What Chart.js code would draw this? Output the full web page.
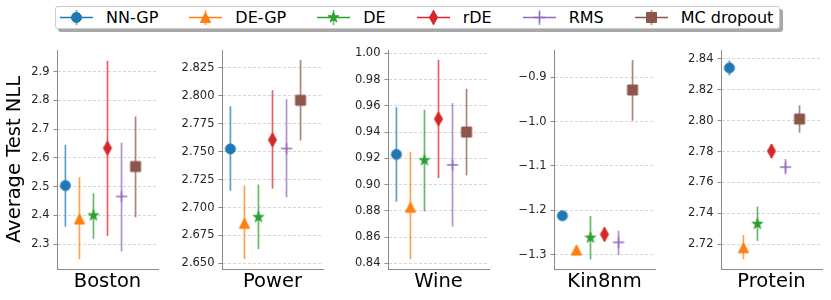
<!DOCTYPE html>
<html>
<head>
<meta charset="utf-8">
<script src="https://cdn.jsdelivr.net/npm/chart.js@4.4.0/dist/chart.umd.min.js"></script>
<style>
  body { margin: 0; background: #fff; width: 831px; height: 300px; position: relative; overflow: hidden; font-family: 'DejaVu Sans', sans-serif; }
  canvas.panel { position: absolute; top: 36px; }
  #legend { position: absolute; left: 55px; top: 6px; height: 23px; box-sizing: border-box; border: 1px solid #ccc; border-radius: 3px; background: #fff; box-shadow: 3px 3px 0 #a8a8a8; display: flex; align-items: center; padding: 0 6px 0 4px; font-size: 16px; color: #000; white-space: nowrap; }
  .item { display: flex; align-items: center; margin-right: 31px; }
  .item:last-child { margin-right: 0; }
  .item canvas { margin-right: 13px; display: block; }
</style>
</head>
<body>
<div id="legend"></div>
<script>
// methods and colours
const methods = ["NN-GP", "DE-GP", "DE", "rDE", "RMS", "MC dropout"];
const colors = ["#1f77b4", "#ff7f0e", "#2ca02c", "#d62728", "#9467bd", "#8c564b"];
const markers = ["circle", "triangle", "star", "thin_diamond", "plus", "square"];
const datasetNames = ["Boston", "Power", "Wine", "Kin8nm", "Protein"];

// values: mean, lower and upper end of the error bar
const bostonMean = [2.504, 2.388, 2.400, 2.634, 2.466, 2.570];
const bostonLow  = [2.361, 2.248, 2.319, 2.329, 2.275, 2.394];
const bostonHigh = [2.645, 2.533, 2.477, 2.938, 2.653, 2.744];

const powerMean = [2.7525, 2.686, 2.6914, 2.7606, 2.7528, 2.796];
const powerLow  = [2.715, 2.654, 2.6628, 2.717, 2.7093, 2.760];
const powerHigh = [2.7907, 2.7198, 2.7206, 2.805, 2.797, 2.832];

const wineMean = [0.923, 0.8828, 0.9185, 0.950, 0.915, 0.940];
const wineLow  = [0.887, 0.843, 0.8795, 0.905, 0.868, 0.907];
const wineHigh = [0.959, 0.925, 0.957, 0.995, 0.962, 0.973];

const kinMean = [-1.212, -1.289, -1.2616, -1.254, -1.272, -0.929];
const kinLow  = [-1.216, -1.294, -1.3105, -1.2706, -1.3008, -0.998];
const kinHigh = [-1.208, -1.284, -1.2126, -1.238, -1.2458, -0.8616];

const proteinMean = [2.8342, 2.7178, 2.7332, 2.7804, 2.770, 2.8011];
const proteinLow  = [2.8294, 2.7103, 2.7222, 2.7757, 2.7653, 2.7923];
const proteinHigh = [2.839, 2.726, 2.7444, 2.7847, 2.7752, 2.810];

// tick labels and axis ranges
const bostonTicks = [2.3, 2.4, 2.5, 2.6, 2.7, 2.8, 2.9];
const powerTicks = [2.650, 2.675, 2.700, 2.725, 2.750, 2.775, 2.800, 2.825];
const wineTicks = [0.84, 0.86, 0.88, 0.90, 0.92, 0.94, 0.96, 0.98, 1.00];
const kinTicks = [-1.3, -1.2, -1.1, -1.0, -0.9];
const proteinTicks = [2.72, 2.74, 2.76, 2.78, 2.80, 2.82, 2.84];
const tickDecimals = [1, 3, 2, 1, 2];
const yMins = [2.214, 2.645, 0.8357, -1.332, 2.704];
const yMaxs = [2.975, 2.841, 1.0025, -0.839, 2.8458];

const allMeans = [bostonMean, powerMean, wineMean, kinMean, proteinMean];
const allLows = [bostonLow, powerLow, wineLow, kinLow, proteinLow];
const allHighs = [bostonHigh, powerHigh, wineHigh, kinHigh, proteinHigh];
const allTicks = [bostonTicks, powerTicks, wineTicks, kinTicks, proteinTicks];

const SPINE = "#8a8a8a";
const panelLeft = [57, 222, 388, 554, 721];

Chart.defaults.font.family = "'DejaVu Sans', sans-serif";

function rgba(hex, a) {
    const n = parseInt(hex.slice(1), 16);
    return `rgba(${(n >> 16) & 255}, ${(n >> 8) & 255}, ${n & 255}, ${a})`;
}

function drawShape(g, kind, cx, cy, color) {
    g.fillStyle = color;
    g.strokeStyle = color;
    g.lineWidth = 1;
    g.lineJoin = "miter";
    g.beginPath();
    if (kind === "circle") {
        g.arc(cx, cy, 5, 0, Math.PI * 2);
    } else if (kind === "triangle") {
        const s = 5.1;
        g.moveTo(cx, cy - s);
        g.lineTo(cx + s, cy + s);
        g.lineTo(cx - s, cy + s);
        g.closePath();
    } else if (kind === "star") {
        const R = 5.6, r = R * 0.382;
        for (let k = 0; k < 10; k++) {
            const a = -Math.PI / 2 + k * Math.PI / 5;
            const rad = k % 2 ? r : R;
            const px = cx + rad * Math.cos(a), py = cy + rad * Math.sin(a);
            if (k === 0) g.moveTo(px, py); else g.lineTo(px, py);
        }
        g.closePath();
    } else if (kind === "thin_diamond") {
        g.moveTo(cx, cy - 7);
        g.lineTo(cx + 4.1, cy);
        g.lineTo(cx, cy + 7);
        g.lineTo(cx - 4.1, cy);
        g.closePath();
    } else if (kind === "plus") {
        g.lineWidth = 1.3;
        g.moveTo(cx - 5.6, cy); g.lineTo(cx + 5.6, cy);
        g.moveTo(cx, cy - 5.6); g.lineTo(cx, cy + 5.6);
        g.stroke();
        return;
    } else if (kind === "square") {
        g.rect(cx - 5, cy - 5, 10, 10);
    }
    g.fill();
    g.stroke();
}

// point images for the plot markers
function markerImage(kind, color) {
    const c = document.createElement("canvas");
    c.width = 18; c.height = 20;
    drawShape(c.getContext("2d"), kind, 9, 10, color);
    return c;
}

// legend handle: line, error bar and marker
function legendIcon(kind, color) {
    const c = document.createElement("canvas");
    c.width = 33; c.height = 21;
    const g = c.getContext("2d");
    g.lineWidth = 1.6;
    g.strokeStyle = color;
    g.beginPath(); g.moveTo(0, 10.5); g.lineTo(33, 10.5); g.stroke();
    g.strokeStyle = rgba(color, 0.7);
    g.beginPath(); g.moveTo(16.5, 3); g.lineTo(16.5, 18); g.stroke();
    drawShape(g, kind, 16.5, 10.5, color);
    return c;
}

function buildLegend() {
    const legend = document.getElementById("legend");
    methods.forEach((m, i) => {
        const item = document.createElement("div");
        item.className = "item";
        item.appendChild(legendIcon(markers[i], colors[i]));
        const span = document.createElement("span");
        span.textContent = m;
        item.appendChild(span);
        legend.appendChild(item);
    });
}
buildLegend();

function buildPanel(p) {
    const yw = p === 0 ? 57 : 50;
    const canvas = document.createElement("canvas");
    canvas.className = "panel";
    canvas.width = yw + 104 + 4;
    canvas.height = 264;
    canvas.style.left = (panelLeft[p] - yw) + "px";
    document.body.appendChild(canvas);

    const datasets = [];
    methods.forEach((m, i) => {
        datasets.push({
            label: m,
            data: [{ x: i, y: allMeans[p][i] }],
            pointStyle: markerImage(markers[i], colors[i]),
            pointRadius: 6,
            order: 0,
            clip: false
        });
    });
    methods.forEach((m, i) => {
        datasets.push({
            label: m + " err",
            data: [{ x: i, y: allLows[p][i] }, { x: i, y: allHighs[p][i] }],
            showLine: true,
            borderColor: rgba(colors[i], 0.72),
            borderWidth: 1.7,
            pointRadius: 0,
            order: 1,
            clip: false
        });
    });

    const ticks = allTicks[p];
    const dec = tickDecimals[p];

    new Chart(canvas, {
        type: "scatter",
        data: { datasets: datasets },
        options: {
            responsive: false,
            animation: false,
            devicePixelRatio: 1,
            layout: { padding: { top: 14, right: 4, left: 0, bottom: 0 } },
            plugins: { legend: { display: false }, tooltip: { enabled: false } },
            scales: {
                x: {
                    type: "linear",
                    min: -0.6,
                    max: 6.6,
                    grid: { display: false },
                    ticks: { display: false },
                    border: { display: true, color: SPINE, width: 1 },
                    title: {
                        display: true,
                        text: datasetNames[p],
                        color: "#000",
                        font: { size: 19.5 },
                        padding: { top: 0, bottom: 6.8 }
                    },
                    afterFit: (s) => { s.height = 31; }
                },
                y: {
                    type: "linear",
                    min: yMins[p],
                    max: yMaxs[p],
                    bounds: "data",
                    afterBuildTicks: (s) => { s.ticks = ticks.map(v => ({ value: v })); },
                    ticks: {
                        callback: (v) => Number(v).toFixed(dec).replace("-", "\u2212"),
                        color: "#262626",
                        font: { size: 11.5 },
                        padding: 4
                    },
                    grid: {
                        color: "#d6d6d6",
                        lineWidth: 1,
                        drawTicks: true,
                        tickLength: 3.5,
                        tickColor: SPINE,
                        tickWidth: 1
                    },
                    border: { display: true, color: SPINE, width: 1, dash: [3, 2] },
                    title: {
                        display: p === 0,
                        text: "Average Test NLL",
                        color: "#000",
                        font: { size: 19.5 },
                        padding: { top: 3, bottom: 0 }
                    },
                    afterFit: (s) => { s.width = yw; }
                }
            }
        }
    });
}

datasetNames.forEach((n, p) => buildPanel(p));
</script>
</body>
</html>
